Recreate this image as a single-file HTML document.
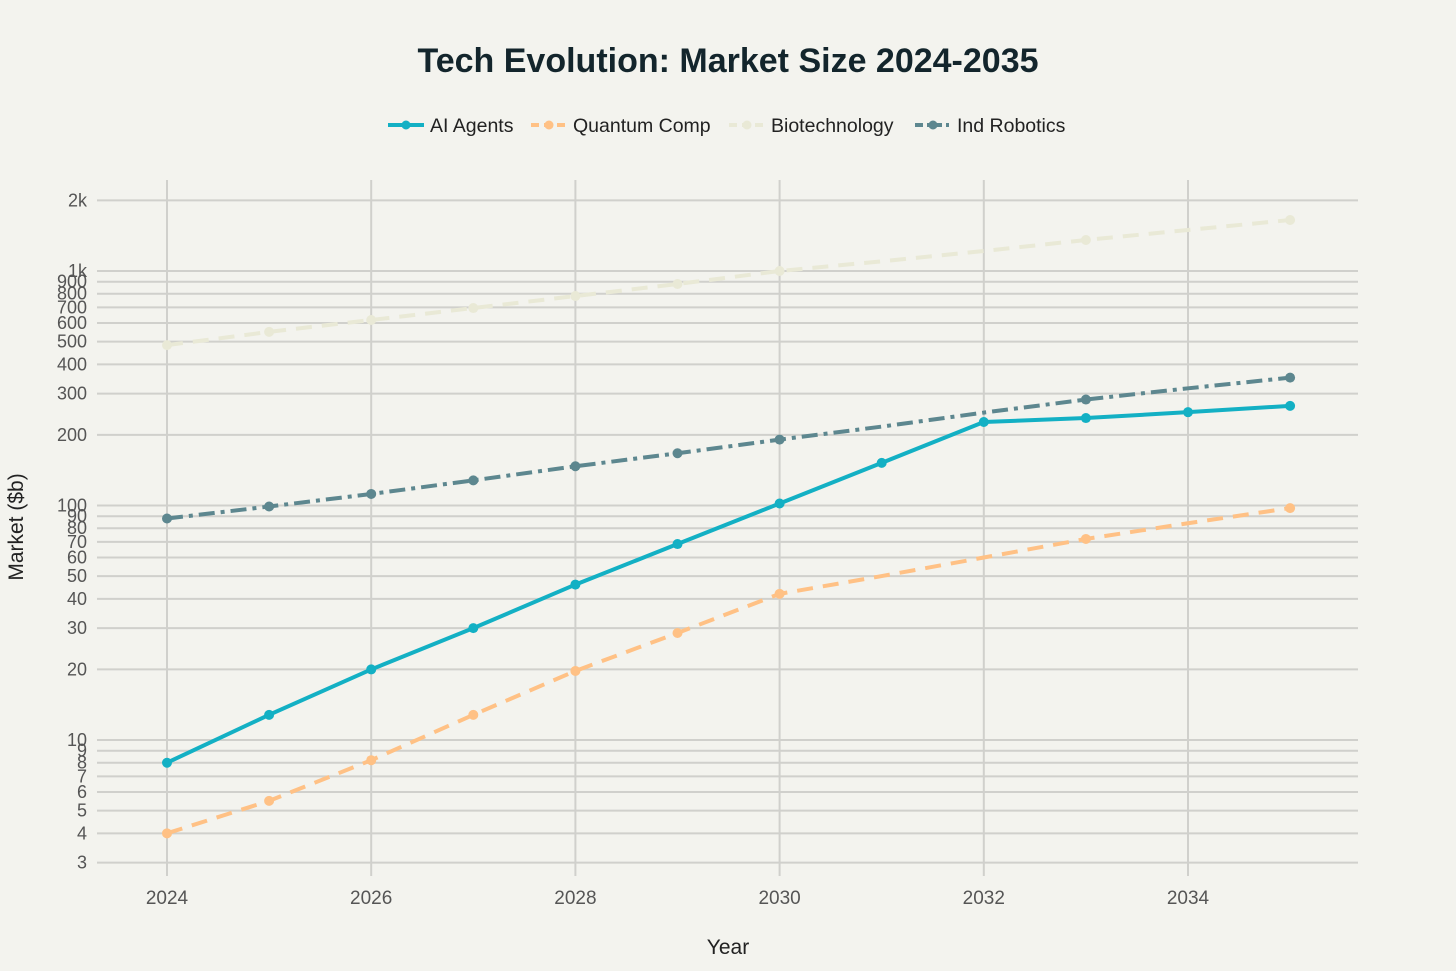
<!DOCTYPE html>
<html><head><meta charset="utf-8"><style>
body{margin:0;background:#F3F3EE;font-family:"Liberation Sans",sans-serif;}
svg{display:block}
</style></head><body>
<svg id="chart" width="1456" height="971" viewBox="0 0 1456 971">
<rect width="1456" height="971" fill="#F3F3EE"/>
<text x="728" y="72" text-anchor="middle" font-size="34" font-weight="bold" fill="#13252C">Tech Evolution: Market Size 2024-2035</text>
<g id="grid"></g><g id="series"></g><g id="legend"></g>
<text x="728" y="954" text-anchor="middle" font-size="21" fill="#222">Year</text>
<text transform="translate(23,527) rotate(-90)" text-anchor="middle" font-size="21" fill="#222">Market ($b)</text>
</svg>
<script>
const years=[2024,2025,2026,2027,2028,2029,2030,2031,2032,2033,2034,2035];
const aiAgents=[8,12.8,20,30,46,68.5,102,152,227,236,250,266];
const quantumComp=[4,5.5,8.2,12.8,19.7,28.6,42,50,60,72,84,97.5];
const biotech=[483,550,618,695,782,880,1000,1100,1217,1356,1496,1650];
const indRobotics=[88,99,112,128,147,167,191,217,249,283,316,351];
const yTicks=[3,4,5,6,7,8,9,10,20,30,40,50,60,70,80,90,100,200,300,400,500,600,700,800,900,1000,2000];
const yTickLabels=["3","4","5","6","7","8","9","10","20","30","40","50","60","70","80","90","100","200","300","400","500","600","700","800","900","1k","2k"];
const xTicks=[2024,2026,2028,2030,2032,2034];
const NS="http://www.w3.org/2000/svg";
const X=v=>167+(v-2024)*102.1;
const Y=v=>740-(Math.log10(v)-1)*234.5;
function mk(tag,at,parent){const e=document.createElementNS(NS,tag);for(const k in at)e.setAttribute(k,at[k]);parent.appendChild(e);return e;}
const grid=document.getElementById('grid');
yTicks.forEach((t,i)=>{
  const l=mk('line',{x1:97,x2:1358,y1:Y(t),y2:Y(t),stroke:'#D0D0CC','stroke-width':2},grid);
  
  
  const tx=mk('text',{x:87,y:Y(t)+6,'text-anchor':'end','font-size':18,fill:'#555'},grid);
  tx.textContent=yTickLabels[i];
  
  
});
xTicks.forEach(t=>{
  const l=mk('line',{x1:X(t),x2:X(t),y1:180,y2:876,stroke:'#D0D0CC','stroke-width':2},grid);
  
  
  const tx=mk('text',{x:X(t),y:904,'text-anchor':'middle','font-size':19,fill:'#555'},grid);
  tx.textContent=t;
  
  
});
const ser=document.getElementById('series');
const defs=[
 {name:'biotechnology',vals:biotech,color:'#E9E9D6',dash:'16,10',skip:[7,8,10]},
 {name:'quantum-comp',vals:quantumComp,color:'#FFC185',dash:'16,10',skip:[7,8,10]},
 {name:'ind-robotics',vals:indRobotics,color:'#5D878F',dash:'16,6,4,6',skip:[7,8,10]},
 {name:'ai-agents',vals:aiAgents,color:'#13B0C4',dash:'',skip:[]}
];
defs.forEach(d=>{
  const g=mk('g',{},ser);
  
  
  const p=mk('polyline',{points:d.vals.map((v,i)=>X(years[i])+','+Y(v)).join(' '),fill:'none',stroke:d.color,'stroke-width':4,'stroke-dasharray':d.dash},g);
  
  
  d.vals.forEach((v,i)=>{
    if(d.skip.includes(i))return;
    const c=mk('circle',{cx:X(years[i]),cy:Y(v),r:5,fill:d.color},g);
    
    
  });
});
const leg=document.getElementById('legend');
const items=[['AI Agents','#13B0C4','',388],['Quantum Comp','#FFC185','8,5',531],['Biotechnology','#E9E9D6','8,5',729],['Ind Robotics','#5D878F','8,4,3,4',915]];
items.forEach(it=>{
  const g=mk('g',{},leg);
  
  
  mk('line',{x1:it[3],x2:it[3]+36,y1:125,y2:125,stroke:it[1],'stroke-width':4,'stroke-dasharray':it[2]},g);
  mk('circle',{cx:it[3]+18,cy:125,r:4.5,fill:it[1]},g);
  const t=mk('text',{x:it[3]+42,y:132,'font-size':19.5,fill:'#222'},g);
  t.textContent=it[0];
});
</script>
</body></html>
